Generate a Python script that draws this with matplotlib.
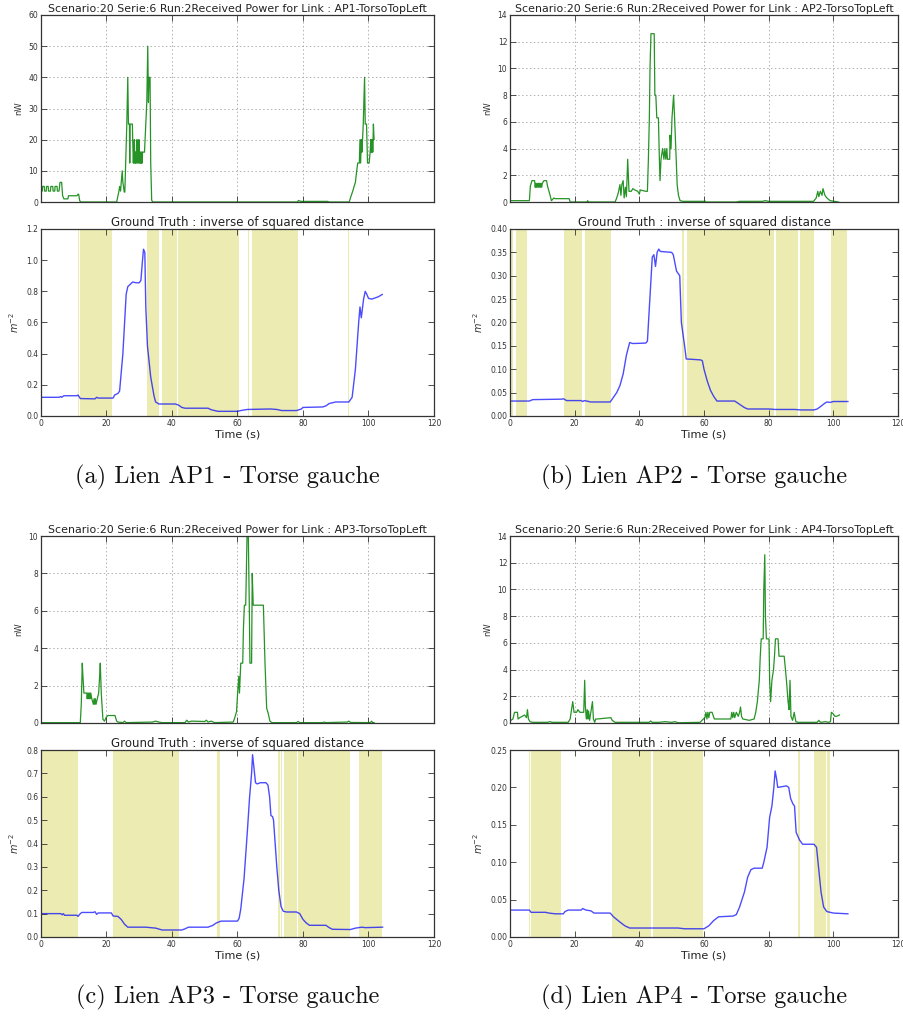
import matplotlib
matplotlib.use('Agg')
import matplotlib.pyplot as plt
from matplotlib.ticker import FormatStrFormatter

# ---------------- data ----------------
links = ['AP1', 'AP2', 'AP3', 'AP4']
captions = ['(a) Lien AP1 - Torse gauche', '(b) Lien AP2 - Torse gauche',
            '(c) Lien AP3 - Torse gauche', '(d) Lien AP4 - Torse gauche']

ap1_power = [(0, 3.5), (0.4, 3.5), (0.5, 5), (1.0, 5), (1.1, 3.5), (1.6, 3.5), (1.7, 5), (2.2, 5),
             (2.3, 3.5), (2.9, 3.5), (3.0, 5), (3.6, 5), (3.7, 3.5), (4.2, 3.5), (4.3, 5), (4.9, 5),
             (5.0, 3.5), (5.5, 3.5), (5.8, 6.3), (6.3, 6.3), (6.6, 2.0), (7.0, 1.0), (8.2, 1.0),
             (8.4, 2.0), (11.0, 2.0), (11.3, 2.5), (11.5, 2.5), (11.8, 0.5), (12.1, 0), (23.1, 0),
             (23.8, 3.5), (24.0, 5), (24.3, 3.5), (24.5, 6.3), (24.8, 10), (25.0, 6.3), (25.2, 5),
             (25.4, 3.2), (25.6, 3.2), (26.2, 25), (26.5, 40), (26.7, 25), (27.0, 25), (27.1, 12.5),
             (27.2, 25), (27.9, 25), (28.0, 20), (28.1, 16), (28.2, 12.5), (28.3, 16), (28.4, 12.5),
             (28.5, 20), (28.6, 16), (28.7, 12.5), (28.8, 16), (28.9, 12.5), (29.0, 16), (29.1, 12.5),
             (29.2, 16), (29.3, 20), (29.4, 16), (29.5, 12.5), (29.6, 16), (29.7, 12.5), (29.8, 16),
             (29.9, 20), (30.0, 16), (30.1, 12.5), (30.2, 16), (30.3, 12.5), (30.4, 16), (30.5, 12.5),
             (30.6, 16), (30.7, 12.5), (30.8, 16), (30.9, 12.5), (31.0, 16), (31.6, 16), (32.0, 25),
             (32.3, 32), (32.6, 50), (32.8, 32), (33.0, 40), (33.3, 40), (33.5, 12.5), (33.8, 0.5),
             (34.2, 0), (78.3, 0), (78.6, 0.5), (79.0, 0.3), (79.5, 0.2), (87.5, 0.2), (88.0, 0),
             (94.1, 0), (94.7, 2.0), (95.2, 3.5), (95.6, 5.0), (96.0, 6.3), (96.4, 10), (96.7, 12.5),
             (97.2, 12.5), (97.4, 20), (97.6, 12.5), (97.8, 20), (98.0, 16), (98.4, 25), (98.8, 40),
             (99.0, 25), (99.4, 25), (99.7, 12.5), (100.2, 12.5), (100.5, 16), (100.7, 20),
             (100.8, 16), (100.9, 20), (101.0, 16), (101.2, 20), (101.3, 16), (101.5, 25), (101.7, 20)]
ap1_truth = [(0, 0.12), (5.5, 0.12), (6.0, 0.125), (6.3, 0.12), (7.0, 0.13), (11.0, 0.13),
             (11.3, 0.135), (12.0, 0.112), (16.5, 0.11), (17.0, 0.12), (17.5, 0.115), (22.0, 0.115),
             (22.5, 0.135), (23.5, 0.145), (24.0, 0.16), (25.0, 0.4), (26.0, 0.78), (26.5, 0.83),
             (27.5, 0.85), (28.0, 0.86), (29.0, 0.855), (30.0, 0.855), (30.5, 0.87), (31.0, 1.0),
             (31.3, 1.07), (31.7, 1.05), (32.0, 0.7), (32.5, 0.45), (33.5, 0.25), (34.5, 0.13),
             (35.0, 0.09), (36.0, 0.077), (41.0, 0.077), (42.0, 0.07), (43.0, 0.055), (44.0, 0.05),
             (51.0, 0.05), (52.0, 0.04), (54.0, 0.03), (60.0, 0.03), (61.0, 0.035), (63.0, 0.042),
             (70.0, 0.045), (72.0, 0.042), (73.5, 0.035), (78.0, 0.035), (79.5, 0.045), (80.0, 0.055),
             (86.0, 0.058), (87.0, 0.065), (88.0, 0.08), (90.0, 0.09), (94.0, 0.09), (95.0, 0.12),
             (96.0, 0.3), (97.0, 0.6), (97.4, 0.7), (97.8, 0.63), (98.5, 0.75), (99.0, 0.8),
             (99.5, 0.78), (100.0, 0.755), (101.0, 0.75), (103.0, 0.765), (104.2, 0.78)]
ap1_spans = [(11.2, 11.6), (12.0, 21.8), (32.4, 35.9), (36.8, 41.5), (41.9, 60.4), (63.3, 63.6),
             (64.5, 78.4), (93.8, 94.0)]

ap2_power = [(0, 0.1), (6.0, 0.1), (6.3, 1.2), (6.8, 1.6), (7.6, 1.6), (7.8, 1.1), (8.0, 1.4),
             (8.2, 1.1), (8.4, 1.4), (8.6, 1.1), (8.8, 1.4), (9.0, 1.1), (9.2, 1.4), (9.4, 1.1),
             (9.6, 1.4), (9.8, 1.1), (10.0, 1.4), (10.5, 1.6), (11.3, 1.6),
             (11.6, 1.2), (12.4, 0.5), (12.8, 0.1), (13.6, 0.3), (14.0, 0.25), (18.3, 0.25), (18.6, 0),
             (23.8, 0), (24.0, 0.1), (24.3, 0), (32.5, 0), (33.0, 0.3), (33.5, 0.7), (34.0, 1.3),
             (34.3, 0.5), (34.6, 1.3), (35.0, 1.6), (35.3, 0.3), (35.7, 1.1), (36.0, 0.4), (36.4, 3.2),
             (36.8, 0.8), (37.5, 0.8), (38.0, 1.0), (38.6, 0.9), (39.5, 0.8), (40.0, 0.6), (40.3, 0.9),
             (42.0, 0.8), (42.5, 0.8), (42.8, 3.2), (43.1, 6.3), (43.3, 10), (43.6, 12.6), (44.6, 12.6),
             (44.8, 8), (45.1, 8), (45.4, 6.3), (45.9, 6.3), (46.2, 3.2), (46.4, 1.6), (46.7, 3.2),
             (47.2, 4), (47.6, 3.2), (47.9, 4), (48.2, 3.2), (48.5, 4), (48.7, 3.2), (49.4, 3.2),
             (49.5, 5), (49.8, 4), (50.1, 6.3), (50.6, 8), (50.9, 6.3), (51.4, 3.2), (51.7, 1.3),
             (52.1, 0.5), (52.6, 0.1), (53.5, 0.05), (60.0, 0.05), (60.2, 0.1), (60.4, 0), (70.0, 0),
             (71.0, 0.05), (78.0, 0.05), (79.0, 0.1), (80.0, 0.05), (93.9, 0.05), (94.7, 0.3),
             (95.2, 0.8), (95.5, 0.4), (96.0, 0.8), (96.5, 0.5), (96.8, 1.0), (97.4, 0.5), (98.0, 0.3),
             (98.5, 0.2), (99.0, 0.1), (101.6, 0)]
ap2_truth = [(0, 0.032), (6.0, 0.032), (7.0, 0.035), (16.0, 0.036), (16.5, 0.037), (17.5, 0.033),
             (22.0, 0.033), (22.5, 0.031), (23.0, 0.033), (25.0, 0.030), (31.0, 0.030), (32.0, 0.04),
             (33.0, 0.05), (34.0, 0.065), (35.0, 0.09), (36.0, 0.13), (37.0, 0.157), (38.0, 0.155),
             (42.0, 0.156), (42.5, 0.16), (43.0, 0.22), (44.0, 0.34), (44.5, 0.345), (45.0, 0.32),
             (45.5, 0.35), (46.0, 0.357), (46.5, 0.352), (50.0, 0.35), (50.5, 0.345), (51.5, 0.31),
             (52.0, 0.305), (52.5, 0.3), (53.0, 0.2), (54.0, 0.15), (54.5, 0.122), (59.0, 0.12),
             (59.5, 0.118), (60.0, 0.1), (61.0, 0.075), (62.0, 0.055), (63.0, 0.042), (64.0, 0.032),
             (69.5, 0.032), (71.0, 0.025), (72.5, 0.018), (73.5, 0.015), (80.0, 0.015), (82.0, 0.014),
             (88.0, 0.014), (90.0, 0.013), (94.0, 0.013), (95.0, 0.015), (96.0, 0.02), (97.5, 0.028),
             (98.0, 0.03), (99.0, 0.029), (100.0, 0.031), (104.5, 0.031)]
ap2_spans = [(0.3, 0.8), (1.8, 5.4), (16.6, 22.4), (23.1, 31.3), (53.2, 53.8), (54.8, 80.0),
             (80.2, 81.5), (82.4, 89.1), (89.8, 93.9), (99.4, 104.2)]

ap3_power = [(0, 0.02), (12.0, 0.02), (12.3, 1.0), (12.6, 3.2), (12.8, 2.5), (13.1, 1.6), (14.0, 1.6),
             (14.1, 1.3), (14.3, 1.6), (14.4, 1.3), (14.6, 1.6), (14.7, 1.3), (14.9, 1.6), (15.0, 1.3),
             (15.2, 1.6), (15.5, 1.3), (16.0, 1.0), (16.2, 1.3), (16.4, 1.0), (16.6, 1.3),
             (16.8, 1.0), (17.2, 1.3), (17.6, 1.6), (17.9, 2.5), (18.1, 3.2), (18.4, 1.6), (18.9, 0.2),
             (19.4, 0.1), (19.9, 0.3), (20.4, 0.4), (22.6, 0.4), (23.1, 0.1), (23.5, 0.05), (25.0, 0.02),
             (25.5, 0.1), (26.0, 0.02), (34.0, 0.05), (35.0, 0.1), (36.0, 0.05), (37.0, 0.02),
             (44.0, 0.02), (44.5, 0.15), (45.0, 0.05), (46.0, 0.1), (50.0, 0.08), (50.5, 0.15),
             (51.0, 0.05), (52.0, 0.1), (53.0, 0.02), (58.7, 0.05), (59.2, 0.3), (59.7, 0.6),
             (60.0, 1.5), (60.4, 2.5), (60.6, 1.6), (61.0, 3.2), (61.6, 3.2), (61.8, 5), (62.1, 6.3),
             (62.5, 6.3), (62.7, 8), (62.9, 10), (63.3, 10), (63.6, 6.3), (63.8, 3.2), (64.3, 3.2),
             (64.5, 8), (64.8, 6.3), (67.9, 6.3), (68.4, 3.2), (68.9, 0.8), (69.4, 0.5), (69.9, 0.1),
             (70.5, 0.02), (78.0, 0.02), (78.5, 0.08), (79.0, 0.02), (86.0, 0.02), (86.5, 0.05),
             (87.0, 0.02), (93.5, 0.05), (94.0, 0.1), (94.5, 0.03), (100.5, 0.02), (101.0, 0.1),
             (101.2, 0.02), (101.7, 0.02)]
ap3_truth = [(0, 0.1), (6.0, 0.1), (6.5, 0.095), (6.8, 0.1), (7.2, 0.093), (11.0, 0.093),
             (11.3, 0.088), (12.0, 0.1), (12.5, 0.105), (16.0, 0.105), (16.5, 0.108), (17.0, 0.097),
             (17.5, 0.103), (21.5, 0.103), (22.0, 0.09), (23.5, 0.088), (24.5, 0.075), (25.5, 0.055),
             (26.5, 0.042), (32.0, 0.042), (35.0, 0.038), (37.0, 0.03), (43.0, 0.03), (44.0, 0.035),
             (45.0, 0.042), (51.0, 0.042), (52.5, 0.05), (53.5, 0.06), (55.0, 0.068), (60.0, 0.068),
             (60.5, 0.08), (61.0, 0.12), (62.0, 0.25), (63.0, 0.45), (63.7, 0.6), (64.3, 0.7),
             (64.6, 0.78), (65.2, 0.7), (65.5, 0.66), (66.0, 0.655), (67.0, 0.66), (68.7, 0.66),
             (69.3, 0.65), (69.8, 0.6), (70.2, 0.52), (70.7, 0.515), (71.0, 0.5), (71.5, 0.4),
             (72.0, 0.3), (72.6, 0.2), (73.3, 0.13), (74.0, 0.11), (75.0, 0.107), (78.0, 0.107),
             (79.0, 0.1), (80.0, 0.075), (81.0, 0.06), (82.0, 0.05), (87.0, 0.05), (88.0, 0.04),
             (89.0, 0.033), (94.5, 0.032), (96.0, 0.038), (98.0, 0.042), (99.0, 0.04), (104.3, 0.042)]
ap3_spans = [(0, 11.2), (22.1, 42.2), (53.8, 54.6), (72.3, 73.0), (73.3, 73.7), (74.1, 78.1),
             (78.4, 94.4), (97.1, 104.0)]

ap4_power = [(0, 0.2), (0.3, 0.2), (0.9, 0.3), (1.4, 0.8), (2.3, 0.8), (2.5, 0.3), (3.0, 0.4),
             (3.8, 0.5), (4.5, 0.6), (5.1, 0.4), (5.4, 1.0), (5.7, 0.3), (6.2, 0.1), (7.0, 0.05),
             (11.5, 0.05), (12.4, 0.1), (13.0, 0.05), (18.0, 0.05), (18.6, 0.3), (19.4, 1.6),
             (19.8, 0.8), (20.6, 0.8), (21.0, 1.0), (21.6, 0.8), (22.8, 0.8), (23.1, 3.2), (23.3, 1.3),
             (23.6, 0.3), (23.9, 1.0), (24.1, 0.3), (24.3, 0.9), (24.6, 0.2), (25.0, 0.8), (25.5, 1.6),
             (25.8, 0.3), (26.2, 0.05), (26.5, 0.3), (27.0, 0.3), (31.2, 0.4), (31.6, 0.2), (32.5, 0.05),
             (43.0, 0.05), (43.5, 0.15), (44.0, 0.05), (46.0, 0.05), (48.0, 0.1), (50.0, 0.05),
             (51.0, 0.1), (52.0, 0.02), (58.8, 0.05), (59.8, 0.3), (60.3, 0.4), (60.6, 0.8), (60.9, 0.3),
             (61.2, 0.8), (61.5, 0.4), (61.8, 0.8), (62.5, 0.8), (63.2, 0.3), (68.3, 0.3), (68.6, 0.8),
             (68.9, 0.4), (69.2, 0.8), (69.5, 0.4), (70.0, 0.8), (70.6, 0.5), (71.0, 0.8), (71.3, 1.2),
             (71.6, 0.5), (72.0, 0.3), (74.0, 0.2), (75.5, 0.3), (76.0, 0.8), (76.5, 1.6), (77.1, 3.2),
             (77.4, 5), (77.7, 6.3), (78.3, 6.3), (78.5, 10), (78.8, 12.6), (79.0, 8), (79.3, 6.3),
             (80.1, 6.3), (80.3, 3.2), (80.6, 1.6), (81.0, 3.2), (81.5, 4), (81.8, 5), (82.1, 6.3),
             (82.9, 6.3), (83.2, 5), (84.8, 5), (85.5, 3.2), (86.0, 1.6), (86.3, 1.0), (86.6, 3.2),
             (86.9, 0.5), (87.4, 0.2), (87.9, 0.8), (88.4, 0.1), (89.0, 0.05), (95.0, 0.05),
             (95.5, 0.2), (96.0, 0.05), (97.5, 0.1), (98.5, 0.05), (99.1, 0.1), (99.4, 0.8),
             (99.9, 0.7), (100.5, 0.5), (101.0, 0.5), (101.9, 0.6)]
ap4_truth = [(0, 0.036), (6.0, 0.036), (6.5, 0.033), (11.0, 0.033), (12.0, 0.032), (14.0, 0.031),
             (16.5, 0.031), (17.0, 0.034), (18.0, 0.036), (22.0, 0.036), (22.5, 0.038), (23.5, 0.036),
             (25.0, 0.035), (26.0, 0.032), (31.0, 0.032), (32.0, 0.027), (34.0, 0.02), (35.5, 0.015),
             (37.0, 0.012), (52.0, 0.012), (54.0, 0.011), (60.0, 0.011), (61.5, 0.015), (63.0, 0.022),
             (64.5, 0.027), (69.0, 0.028), (70.0, 0.03), (71.0, 0.04), (72.5, 0.06), (73.5, 0.08),
             (74.5, 0.09), (75.5, 0.092), (78.0, 0.092), (78.5, 0.1), (79.5, 0.12), (80.3, 0.16),
             (81.0, 0.175), (81.6, 0.2), (82.0, 0.222), (82.5, 0.21), (82.8, 0.2), (85.5, 0.202),
             (86.2, 0.2), (86.8, 0.185), (87.5, 0.178), (88.0, 0.175), (88.5, 0.14), (89.5, 0.13),
             (90.5, 0.124), (94.0, 0.124), (94.8, 0.12), (95.5, 0.09), (96.2, 0.06), (97.0, 0.04),
             (98.0, 0.034), (100.0, 0.032), (104.5, 0.031)]
ap4_spans = [(5.9, 6.2), (6.6, 15.7), (31.1, 31.3), (31.6, 43.7), (44.2, 59.6), (89.1, 89.6),
             (93.9, 97.8), (98.1, 98.9)]

power_series = [ap1_power, ap2_power, ap3_power, ap4_power]
truth_series = [ap1_truth, ap2_truth, ap3_truth, ap4_truth]
span_series = [ap1_spans, ap2_spans, ap3_spans, ap4_spans]
power_ymax = [60, 14, 10, 14]
power_ystep = [10, 2, 2, 2]
truth_ymax = [1.2, 0.40, 0.8, 0.25]
truth_ystep = [0.2, 0.05, 0.1, 0.05]
truth_fmt = ['%.1f', '%.2f', '%.1f', '%.2f']
x_ticks = [0, 20, 40, 60, 80, 100, 120]

# ---------------- layout ----------------
W, H = 904, 1016
fig = plt.figure(figsize=(W / 100, H / 100), dpi=100)

cols_px = [(41, 434), (510, 898)]
rows_px = [((15, 202), (229, 416), 477), ((536, 723), (750, 937), 997)]


def ax_rect(x0, x1, y0, y1):
    return [x0 / W, 1 - y1 / H, (x1 - x0) / W, (y1 - y0) / H]


def style(ax):
    ax.tick_params(direction='in', top=True, right=True, length=4, width=0.6,
                   labelsize=5.5, pad=2, colors='#333333', labelcolor='#333333')
    for s in ax.spines.values():
        s.set_linewidth(0.9)
        s.set_color('#333333')


for i in range(4):
    r, c = divmod(i, 2)
    (x0, x1) = cols_px[c]
    (top_y, bot_y, cap_y) = rows_px[r]

    # received power panel
    ax = fig.add_axes(ax_rect(x0, x1, *top_y))
    t = [p[0] for p in power_series[i]]
    v = [p[1] for p in power_series[i]]
    ax.plot(t, v, color='#008000', lw=0.9, alpha=0.85)
    ax.set_xlim(0, 120)
    ax.set_ylim(0, power_ymax[i])
    ax.set_xticks(x_ticks)
    ax.set_xticklabels([])
    ax.set_yticks([k * power_ystep[i] for k in range(int(round(power_ymax[i] / power_ystep[i])) + 1)])
    ax.grid(True, linestyle=(0, (1.5, 2.5)), color='#b0b0b0', linewidth=0.7)
    ax.set_ylabel('nW', fontsize=6, color='#333333', labelpad=4)
    ax.set_title('Scenario:20 Serie:6 Run:2Received Power for Link : %s-TorsoTopLeft' % links[i],
                 fontsize=7.95, pad=2, color='#222222')
    style(ax)

    # ground truth panel
    ax2 = fig.add_axes(ax_rect(x0, x1, *bot_y))
    for (s, e) in span_series[i]:
        ax2.axvspan(s, e, facecolor='#bfbf00', alpha=0.3, edgecolor='none')
    t = [p[0] for p in truth_series[i]]
    v = [p[1] for p in truth_series[i]]
    ax2.plot(t, v, color='#0000ff', lw=1.0, alpha=0.7)
    ax2.set_xlim(0, 120)
    ax2.set_ylim(0, truth_ymax[i])
    ax2.set_xticks(x_ticks)
    n = int(round(truth_ymax[i] / truth_ystep[i]))
    ax2.set_yticks([k * truth_ystep[i] for k in range(n + 1)])
    ax2.yaxis.set_major_formatter(FormatStrFormatter(truth_fmt[i]))
    ax2.set_ylabel(r'$m^{-2}$', fontsize=7, color='#333333', labelpad=4)
    ax2.set_xlabel('Time (s)', fontsize=8, color='#222222', labelpad=1)
    ax2.set_title('Ground Truth : inverse of squared distance', fontsize=8.5, pad=2, color='#222222')
    style(ax2)

    # caption
    fig.text((x0 + x1) / 2 / W - 0.011, 1 - cap_y / H, captions[i], ha='center', va='center',
             fontsize=17.5, family='cmr10', color='#111111')

fig.savefig('out.png', dpi=100)
